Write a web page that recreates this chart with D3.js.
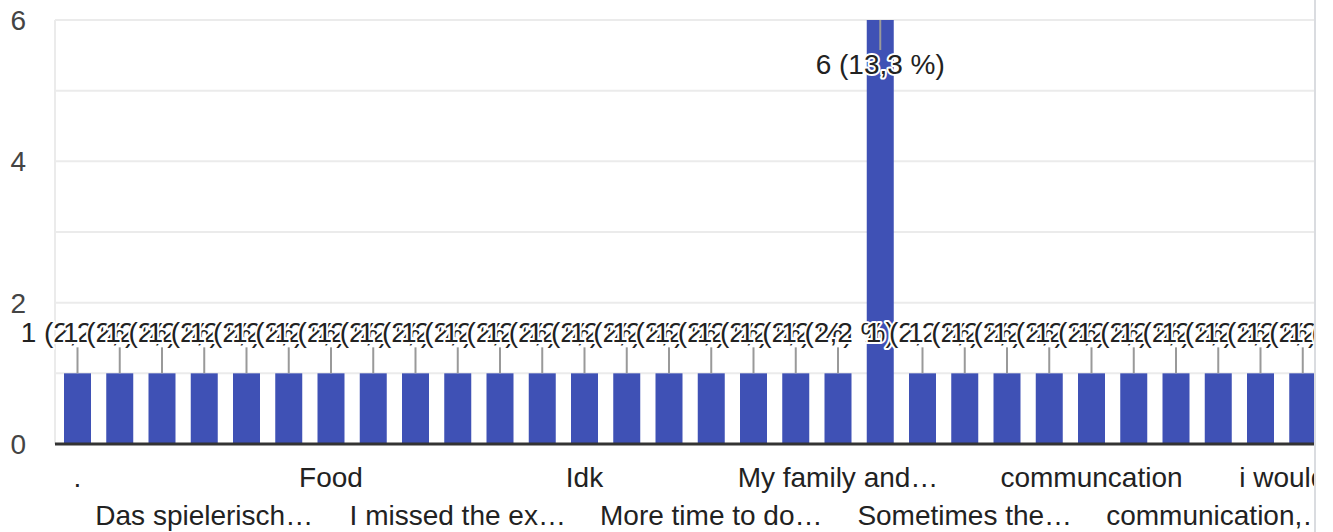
<!DOCTYPE html>
<html>
<head>
<meta charset="utf-8">
<script src="https://cdn.jsdelivr.net/npm/d3@7"></script>
<style>
  body { margin: 0; background: #fff; }
  text { font-family: "Liberation Sans", Arial, sans-serif; }
</style>
</head>
<body>
<script>
// answers per option (only the ones visible in the window), 45 responses total
const counts = [1,1,1,1,1,1,1,1,1,1,1,1,1,1,1,1,1,1,1,6,1,1,1,1,1,1,1,1,1,1,1]
const totalResponses = 45
// labels google shows under the axis (every 3rd option, two rows)
const labelIndex = [0, 3, 6, 9, 12, 15, 18, 21, 24, 27, 30]
const labelText = ['.', 'Das spielerisch…', 'Food', 'I missed the ex…', 'Idk', 'More time to do…',
  'My family and…', 'Sometimes the…', 'communcation', 'communication,…', 'i would like mo…']
const yTicks = [0, 2, 4, 6]
const yGrid = [0, 1, 2, 3, 4, 5, 6]

function barChart() {
    const width = 1333
    const height = 532
    const left = 55
    const clipRight = 1314
    const barColor = '#3f51b5'

    const svg = d3.select('body')
        .append('svg')
        .attr('width', width)
        .attr('height', height)

    svg.append('clipPath').attr('id', 'plotclip')
        .append('rect')
        .attr('x', 0).attr('y', 0)
        .attr('width', clipRight).attr('height', height)

    const idx = counts.map((d, i) => i)

    // band scale runs past the window edge, like the scrolled google chart
    const x = d3.scaleBand()
        .domain(idx)
        .range([left, 1367.5])
        .paddingInner(0.361)
        .paddingOuter(0.213)

    const y = d3.scaleLinear()
        .domain([0, 6])
        .range([444, 20])

    const g = svg.append('g').attr('clip-path', 'url(#plotclip)')

    // gridlines
    g.selectAll('.grid')
        .data(yGrid)
        .enter()
        .append('line')
        .attr('x1', left)
        .attr('x2', clipRight)
        .attr('y1', d => y(d))
        .attr('y2', d => y(d))
        .attr('stroke', '#ebebeb')
        .attr('stroke-width', 2)

    g.append('line')
        .attr('x1', left).attr('x2', left)
        .attr('y1', y(6)).attr('y2', y(0))
        .attr('stroke', '#ebebeb')
        .attr('stroke-width', 2)

    // bars
    g.selectAll('.bar')
        .data(counts)
        .enter()
        .append('rect')
        .attr('x', (d, i) => x(i))
        .attr('y', d => y(d))
        .attr('width', x.bandwidth())
        .attr('height', d => y(0) - y(d))
        .attr('fill', barColor)

    // baseline
    g.append('line')
        .attr('x1', left).attr('x2', clipRight)
        .attr('y1', y(0)).attr('y2', y(0))
        .attr('stroke', '#333')
        .attr('stroke-width', 3)

    // annotation goes inside the bar when there is no room above it
    function inside(d) { return y(d) - 41 < y(6) }

    g.selectAll('.leader')
        .data(counts)
        .enter()
        .append('line')
        .attr('x1', (d, i) => x(i) + x.bandwidth() / 2)
        .attr('x2', (d, i) => x(i) + x.bandwidth() / 2)
        .attr('y1', d => inside(d) ? y(d) : y(d) - 26)
        .attr('y2', d => inside(d) ? y(d) + 30 : y(d))
        .attr('stroke', '#999')
        .attr('stroke-width', 2)

    const fmt = v => (Math.round(v * 1000) / 10).toFixed(1).replace('.', ',')

    g.selectAll('.annot')
        .data(counts)
        .enter()
        .append('text')
        .attr('x', (d, i) => x(i) + x.bandwidth() / 2)
        .attr('y', d => inside(d) ? y(d) + 54 : y(d) - 31)
        .attr('text-anchor', 'middle')
        .attr('font-size', 28)
        .attr('fill', '#222')
        .attr('stroke', '#fff')
        .attr('stroke-width', 4)
        .attr('stroke-linejoin', 'round')
        .attr('paint-order', 'stroke')
        .text(d => d + ' (' + fmt(d / totalResponses) + ' %)')

    // category labels, staggered in two rows
    g.selectAll('.xlab')
        .data(labelIndex)
        .enter()
        .append('text')
        .attr('x', d => x(d) + x.bandwidth() / 2)
        .attr('y', (d, i) => i % 2 === 0 ? 487 : 525)
        .attr('text-anchor', 'middle')
        .attr('font-size', 28)
        .attr('fill', '#222')
        .text((d, i) => labelText[i])

    // y tick labels
    svg.selectAll('.ylab')
        .data(yTicks)
        .enter()
        .append('text')
        .attr('x', 26)
        .attr('y', d => y(d) + 10)
        .attr('text-anchor', 'end')
        .attr('font-size', 28)
        .attr('fill', '#444')
        .text(d => d)

    // edge of the scroll area
    svg.append('line')
        .attr('x1', clipRight + 1).attr('x2', clipRight + 1)
        .attr('y1', 0).attr('y2', height)
        .attr('stroke', '#dadce0')
        .attr('stroke-width', 2)
}

barChart()
</script>
</body>
</html>
